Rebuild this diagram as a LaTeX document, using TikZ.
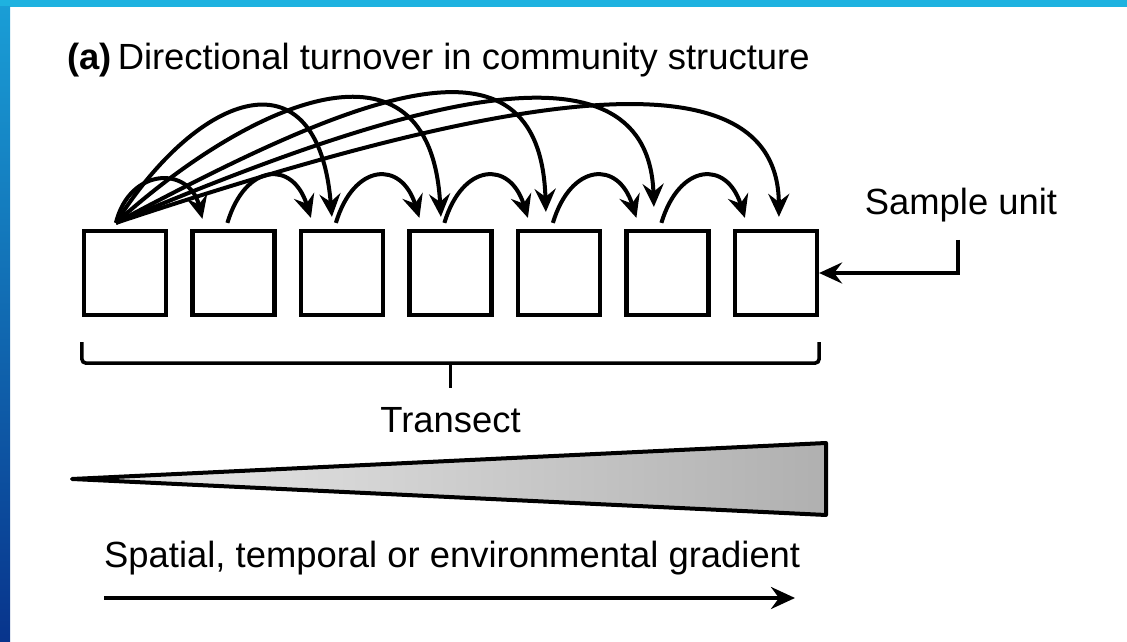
\documentclass[tikz,border=0pt]{standalone}
\usepackage{fontspec}
\setmainfont{Liberation Sans}
\usetikzlibrary{arrows.meta,positioning}
\definecolor{topblue}{RGB}{30,178,224}
\definecolor{midblue}{RGB}{16,110,190}
\definecolor{deepblue}{RGB}{8,52,140}
\definecolor{wedgelight}{RGB}{236,236,236}
\definecolor{wedgedark}{RGB}{176,176,176}

\begin{document}
\begin{tikzpicture}[x=1pt, y=1pt,
  txt/.style={inner sep=0pt, font=\fontsize{36.4pt}{44pt}\selectfont},
  unit/.style={draw, line width=4.2pt, minimum width=82pt, minimum height=84pt, inner sep=0pt},
  hop/.style={line width=4pt, -{Stealth[length=23pt,width=21pt,inset=8pt]}},
  brace/.style={line width=3.6pt, rounded corners=4pt}]
  \useasboundingbox (0,0) rectangle (1127,642);
  % backdrop
  \fill[topblue] (0,635) rectangle (1127,642);
  \shade[top color=topblue!70!midblue, middle color=midblue, bottom color=deepblue] (0,0) rectangle (10,635);
  % title
  \node[txt, anchor=base west] (title) at (67,572) {\textbf{(a)}\,Directional turnover in community structure};
  % sample units
  \foreach \i in {1,...,7}
    \node[unit] (u\i) at ({125+108.5*(\i-1)},369) {};
  \coordinate (src) at ([xshift=34pt,yshift=6pt]u1.north west);
  % neighbour hops
  \draw[hop] (src) .. controls +(14,56) and +(-13,53) .. ([xshift=12pt,yshift=10pt]u2.north west);
  \foreach \i [evaluate=\i as \j using int(\i+1)] in {2,...,6}
    \draw[hop] ([xshift=37pt,yshift=6pt]u\i.north west) .. controls +(18,60) and +(-18,58) .. ([xshift=12pt,yshift=11pt]u\j.north west);
  % long hops from the first unit
  \foreach \j/\dx/\dy/\ax/\ay/\bx/\by in {3/33/12/84/133/-14/167, 4/33.5/12/134/121/-11/195,
      5/30/17/236/126/-6/195, 6/29.5/22/264/111/-6/185, 7/46/12/334/111/-1/185}
    \draw[hop] (src) .. controls +(\ax,\ay) and +(\bx,\by) .. ([xshift=\dx pt,yshift=\dy pt]u\j.north west);
  % sample unit label
  \node[txt, anchor=base] (su) at (961,427) {Sample unit};
  \coordinate (sutail) at (958,402);
  \draw[hop] (sutail) |- (u7.east);
  % transect brace
  \coordinate (bl) at ([yshift=-25pt]u1.south west);
  \coordinate (br) at ([yshift=-25pt]u7.south east);
  \coordinate (bm) at ([yshift=-46pt]u4.south);
  \coordinate (tick) at ([yshift=-25pt]bm);
  \draw[brace] (bl) |- (bm) -| (br);
  \draw[line width=3.6pt] (bm) -- (tick);
  \node[txt, below=19pt of tick] (tr) {Transect};
  % gradient wedge
  \draw[line width=4pt, line join=round, left color=wedgelight, right color=wedgedark]
    (72,163) -- (826,199) -- (826,127) -- cycle;
  \node[txt, anchor=base west] (gl) at (104,74) {Spatial, temporal or environmental gradient};
  \coordinate (g0) at (104,44);
  \coordinate (g1) at (795,44);
  \draw[line width=3.6pt, -{Stealth[length=24pt,width=22pt,inset=8pt]}] (g0) -- (g1);
\end{tikzpicture}
\end{document}
